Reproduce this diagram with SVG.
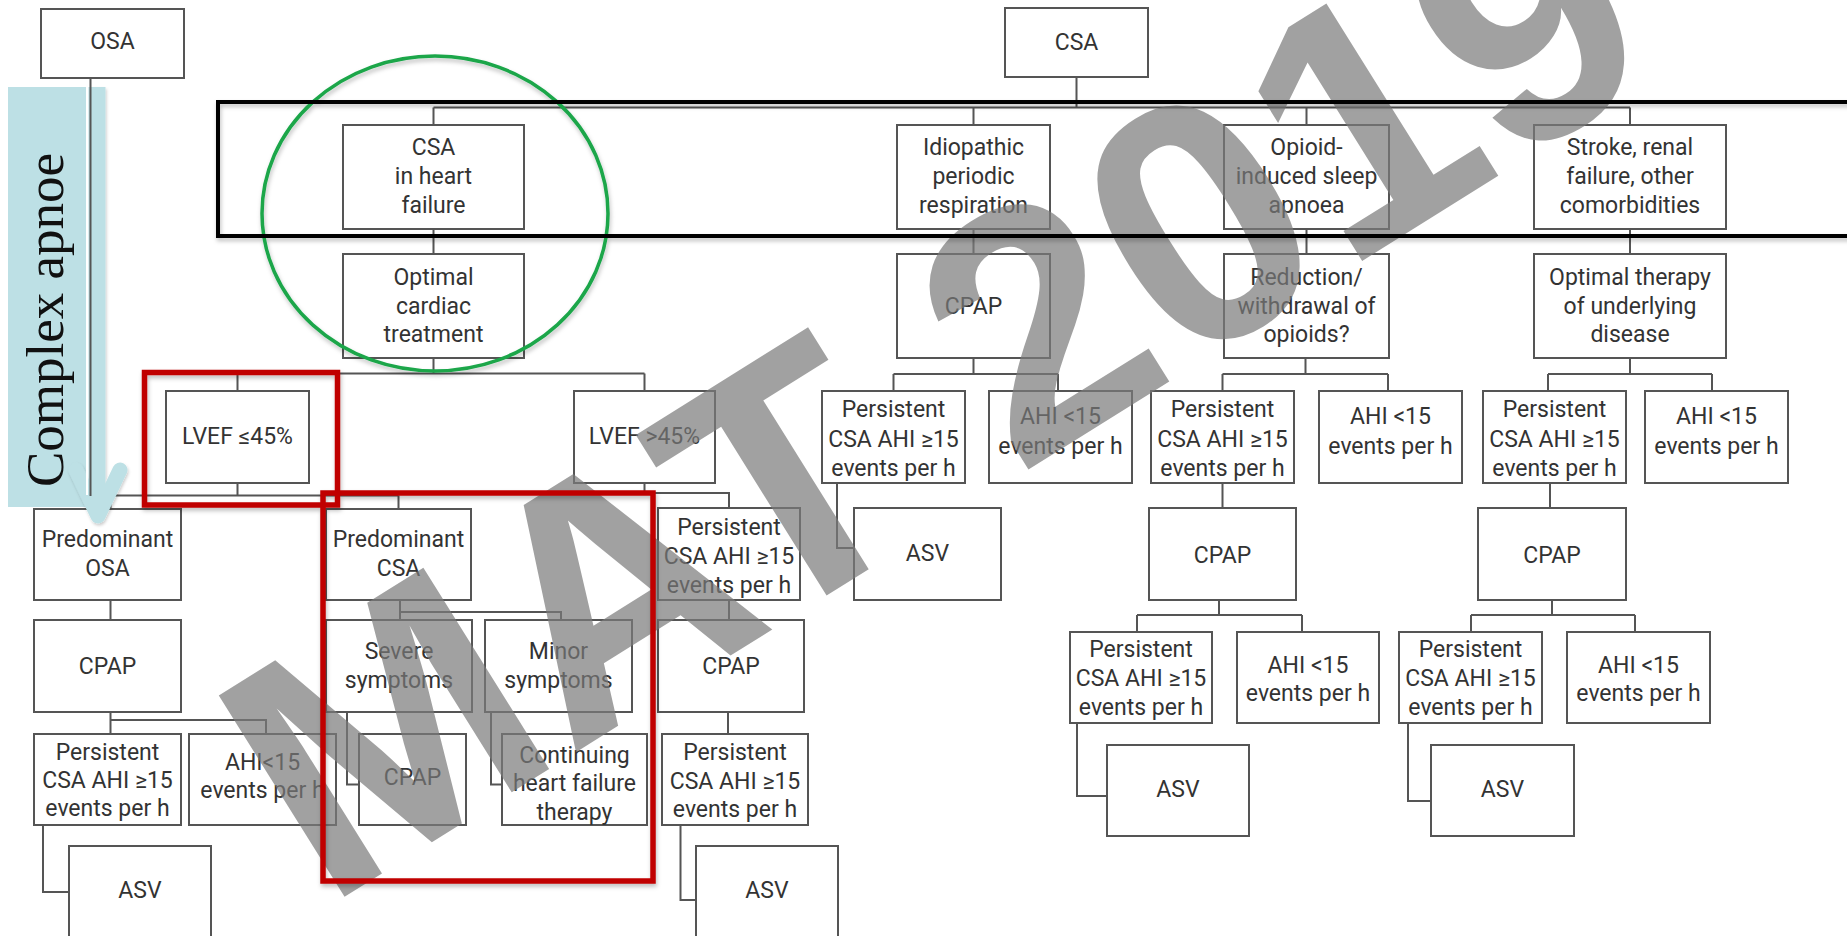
<svg xmlns="http://www.w3.org/2000/svg" width="1847" height="936" viewBox="0 0 1847 936">
<defs>
<style>
.box{fill:#fff;stroke:#555;stroke-width:2}
.t{font-family:Roboto,"DejaVu Sans",sans-serif;font-size:23px;fill:#333;text-anchor:middle}
.c{fill:none;stroke:#555;stroke-width:2}
.red{fill:none;stroke:#c00000;stroke-width:5.5}
</style>
<filter id="sh" x="-5%" y="-5%" width="110%" height="115%"><feDropShadow dx="1" dy="3" stdDeviation="2" flood-color="#000" flood-opacity="0.25"/></filter>
<filter id="sh2" x="-30%" y="-10%" width="160%" height="130%"><feDropShadow dx="1" dy="2" stdDeviation="1.5" flood-color="#000" flood-opacity="0.2"/></filter>
</defs>
<rect width="1847" height="936" fill="#fff"/>

<g id="connectors">
<path class="c" d="M1076.5 77V107.5M433.5 107.5H1630M433.5 107.5V125M973.5 107.5V125M1306.5 107.5V125M1630 107.5V125"/>
<path class="c" d="M433.5 229V254M973.5 229V254M1306.5 229V254M1630 229V254"/>
<path class="c" d="M433.5 358V373.5M237.5 373.5H644.5M237.5 373.5V391M644.5 373.5V391"/>
<path class="c" d="M973.5 358V374M893.5 374H1058M893.5 374V391M1058 374V391"/>
<path class="c" d="M1305.5 358V374M1222.5 374H1388M1222.5 374V391M1388 374V391"/>
<path class="c" d="M1630 358V374M1548 374H1712M1548 374V391M1712 374V391"/>
<path class="c" d="M237.5 483V495.5M90.5 495.5H398.5M110.5 495.5V509M398.5 495.5V509"/>
<path class="c" d="M644.5 483V493H729V508"/>
<path class="c" d="M837 483V548H854"/>
<path class="c" d="M1222.5 483V508M1550 483V508"/>
<path class="c" d="M110.5 600V620M400 600V612H561V620M400 612V620M729 600V620"/>
<path class="c" d="M1219 600V615M1137 615H1302M1137 615V632M1302 615V632"/>
<path class="c" d="M1552 600V615M1471 615H1635M1471 615V632M1635 615V632"/>
<path class="c" d="M110.5 712V720H266V734M110.5 720V734"/>
<path class="c" d="M347 712V784.5H359M491 712V784.5H502M728 712V734"/>
<path class="c" d="M1077 723V796H1107M1408 723V801H1431"/>
<path class="c" d="M43 825V892H69M680.5 825V900H696"/>
</g>

<g id="n_osa"><rect class="box" x="41" y="9" width="143" height="69"/><text class="t" x="112.5" y="49">OSA</text></g>
<g id="n_csa"><rect class="box" x="1005" y="8" width="143" height="69"/><text class="t" x="1076.5" y="50">CSA</text></g>

<g id="n_csahf"><rect class="box" x="343" y="125" width="181" height="104"/><text class="t"><tspan x="433.5" y="155">CSA</tspan><tspan x="433.5" y="184">in heart</tspan><tspan x="433.5" y="213">failure</tspan></text></g>
<g id="n_idio"><rect class="box" x="897" y="125" width="153" height="104"/><text class="t"><tspan x="973.5" y="155">Idiopathic</tspan><tspan x="973.5" y="184">periodic</tspan><tspan x="973.5" y="213">respiration</tspan></text></g>
<g id="n_opioid"><rect class="box" x="1224" y="125" width="165" height="104"/><text class="t"><tspan x="1306.5" y="155">Opioid-</tspan><tspan x="1306.5" y="184">induced sleep</tspan><tspan x="1306.5" y="213">apnoea</tspan></text></g>
<g id="n_stroke"><rect class="box" x="1534" y="125" width="192" height="104"/><text class="t"><tspan x="1630" y="155">Stroke, renal</tspan><tspan x="1630" y="184">failure, other</tspan><tspan x="1630" y="213">comorbidities</tspan></text></g>

<g id="n_optcard"><rect class="box" x="343" y="254" width="181" height="104"/><text class="t"><tspan x="433.5" y="285">Optimal</tspan><tspan x="433.5" y="313.5">cardiac</tspan><tspan x="433.5" y="342">treatment</tspan></text></g>
<g id="n_idio_cpap"><rect class="box" x="897" y="254" width="153" height="104"/><text class="t" x="973.5" y="314">CPAP</text></g>
<g id="n_reduct"><rect class="box" x="1224" y="254" width="165" height="104"/><text class="t"><tspan x="1306.5" y="285">Reduction/</tspan><tspan x="1306.5" y="313.5">withdrawal of</tspan><tspan x="1306.5" y="342">opioids?</tspan></text></g>
<g id="n_opttherapy"><rect class="box" x="1534" y="254" width="192" height="104"/><text class="t"><tspan x="1630" y="285">Optimal therapy</tspan><tspan x="1630" y="313.5">of underlying</tspan><tspan x="1630" y="342">disease</tspan></text></g>

<g id="n_lvef_lo"><rect class="box" x="166" y="391" width="143" height="92"/><text class="t" x="237.5" y="444">LVEF ≤45%</text></g>
<g id="n_lvef_hi"><rect class="box" x="574" y="391" width="141" height="92"/><text class="t" x="644.5" y="444">LVEF &gt;45%</text></g>
<g id="n_idio_pers"><rect class="box" x="822" y="391" width="143" height="92"/><text class="t"><tspan x="893.5" y="417">Persistent</tspan><tspan x="893.5" y="446.5">CSA AHI ≥15</tspan><tspan x="893.5" y="476">events per h</tspan></text></g>
<g id="n_idio_ahi"><rect class="box" x="989" y="391" width="143" height="92"/><text class="t"><tspan x="1060.5" y="424">AHI &lt;15</tspan><tspan x="1060.5" y="454">events per h</tspan></text></g>
<g id="n_opi_pers"><rect class="box" x="1151" y="391" width="143" height="92"/><text class="t"><tspan x="1222.5" y="417">Persistent</tspan><tspan x="1222.5" y="446.5">CSA AHI ≥15</tspan><tspan x="1222.5" y="476">events per h</tspan></text></g>
<g id="n_opi_ahi"><rect class="box" x="1319" y="391" width="143" height="92"/><text class="t"><tspan x="1390.5" y="424">AHI &lt;15</tspan><tspan x="1390.5" y="454">events per h</tspan></text></g>
<g id="n_str_pers"><rect class="box" x="1483" y="391" width="143" height="92"/><text class="t"><tspan x="1554.5" y="417">Persistent</tspan><tspan x="1554.5" y="446.5">CSA AHI ≥15</tspan><tspan x="1554.5" y="476">events per h</tspan></text></g>
<g id="n_str_ahi"><rect class="box" x="1645" y="391" width="143" height="92"/><text class="t"><tspan x="1716.5" y="424">AHI &lt;15</tspan><tspan x="1716.5" y="454">events per h</tspan></text></g>

<g id="n_predosa"><rect class="box" x="34" y="509" width="147" height="91"/><text class="t"><tspan x="107.5" y="547">Predominant</tspan><tspan x="107.5" y="576">OSA</tspan></text></g>
<g id="n_predcsa"><rect class="box" x="326" y="509" width="145" height="91"/><text class="t"><tspan x="398.5" y="547">Predominant</tspan><tspan x="398.5" y="576">CSA</tspan></text></g>
<g id="n_hi_pers"><rect class="box" x="658" y="508" width="142" height="92"/><text class="t"><tspan x="729" y="535">Persistent</tspan><tspan x="729" y="564">CSA AHI ≥15</tspan><tspan x="729" y="593">events per h</tspan></text></g>
<g id="n_idio_asv"><rect class="box" x="854" y="508" width="147" height="92"/><text class="t" x="927.5" y="561">ASV</text></g>
<g id="n_opi_cpap"><rect class="box" x="1149" y="508" width="147" height="92"/><text class="t" x="1222.5" y="563">CPAP</text></g>
<g id="n_str_cpap"><rect class="box" x="1478" y="508" width="148" height="92"/><text class="t" x="1552" y="563">CPAP</text></g>

<g id="n_osa_cpap"><rect class="box" x="34" y="620" width="147" height="92"/><text class="t" x="107.5" y="674">CPAP</text></g>
<g id="n_severe"><rect class="box" x="326" y="620" width="146" height="92"/><text class="t"><tspan x="399" y="659">Severe</tspan><tspan x="399" y="688">symptoms</tspan></text></g>
<g id="n_minor"><rect class="box" x="485" y="620" width="147" height="92"/><text class="t"><tspan x="558.5" y="659">Minor</tspan><tspan x="558.5" y="688">symptoms</tspan></text></g>
<g id="n_hi_cpap"><rect class="box" x="658" y="620" width="146" height="92"/><text class="t" x="731" y="674">CPAP</text></g>
<g id="n_opi_pers2"><rect class="box" x="1070" y="632" width="142" height="91"/><text class="t"><tspan x="1141" y="657">Persistent</tspan><tspan x="1141" y="686">CSA AHI ≥15</tspan><tspan x="1141" y="715">events per h</tspan></text></g>
<g id="n_opi_ahi2"><rect class="box" x="1237" y="632" width="142" height="91"/><text class="t"><tspan x="1308" y="672.5">AHI &lt;15</tspan><tspan x="1308" y="701">events per h</tspan></text></g>
<g id="n_str_pers2"><rect class="box" x="1399" y="632" width="143" height="91"/><text class="t"><tspan x="1470.5" y="657">Persistent</tspan><tspan x="1470.5" y="686">CSA AHI ≥15</tspan><tspan x="1470.5" y="715">events per h</tspan></text></g>
<g id="n_str_ahi2"><rect class="box" x="1567" y="632" width="143" height="91"/><text class="t"><tspan x="1638.5" y="672.5">AHI &lt;15</tspan><tspan x="1638.5" y="701">events per h</tspan></text></g>

<g id="n_osa_pers"><rect class="box" x="34" y="734" width="147" height="91"/><text class="t"><tspan x="107.5" y="760">Persistent</tspan><tspan x="107.5" y="788">CSA AHI ≥15</tspan><tspan x="107.5" y="816">events per h</tspan></text></g>
<g id="n_osa_ahi"><rect class="box" x="189" y="734" width="147" height="91"/><text class="t"><tspan x="262.5" y="770">AHI&lt;15</tspan><tspan x="262.5" y="798">events per h</tspan></text></g>
<g id="n_sev_cpap"><rect class="box" x="359" y="734" width="107" height="91"/><text class="t" x="412.5" y="785">CPAP</text></g>
<g id="n_cont"><rect class="box" x="502" y="734" width="145" height="91"/><text class="t"><tspan x="574.5" y="763">Continuing</tspan><tspan x="574.5" y="791">heart failure</tspan><tspan x="574.5" y="820">therapy</tspan></text></g>
<g id="n_hi_pers2"><rect class="box" x="662" y="734" width="146" height="91"/><text class="t"><tspan x="735" y="760">Persistent</tspan><tspan x="735" y="788.5">CSA AHI ≥15</tspan><tspan x="735" y="817">events per h</tspan></text></g>
<g id="n_opi_asv"><rect class="box" x="1107" y="745" width="142" height="91"/><text class="t" x="1178" y="797">ASV</text></g>
<g id="n_str_asv"><rect class="box" x="1431" y="745" width="143" height="91"/><text class="t" x="1502.5" y="797">ASV</text></g>
<g id="n_osa_asv"><rect class="box" x="69" y="846" width="142" height="100"/><text class="t" x="140" y="898">ASV</text></g>
<g id="n_hi_asv"><rect class="box" x="696" y="846" width="142" height="100"/><text class="t" x="767" y="898">ASV</text></g>

<g id="watermark"><text transform="translate(325,909) rotate(-32)" font-family="'Liberation Sans',Arial,sans-serif" font-weight="bold" font-size="345" fill="#7a7a7a" opacity="0.7">MAT 2019</text></g>

<g id="complex_apnoe">
<rect x="8" y="87" width="78" height="420" fill="#bde0e5"/>
<g filter="url(#sh2)">
<line x1="97" y1="87" x2="97" y2="505" stroke="#bde0e5" stroke-width="17"/>
<polyline points="76,470 98,516 120,470" fill="none" stroke="#bde0e5" stroke-width="15" stroke-linecap="round" stroke-linejoin="round"/>
</g>
<line x1="87" y1="87" x2="87" y2="495" stroke="#fff" stroke-width="2"/>
<line x1="90.5" y1="78" x2="90.5" y2="496" stroke="#555" stroke-width="2"/>
<text transform="translate(63,487) rotate(-90)" font-family="'Liberation Serif','Times New Roman',serif" font-size="53" fill="#111">Complex apnoe</text>
</g>

<g id="highlights" filter="url(#sh)">
<rect class="red" x="144.5" y="372.5" width="193" height="132.5"/>
<rect class="red" x="323" y="493" width="330" height="388"/>
<ellipse cx="435" cy="213.5" rx="173" ry="157.5" fill="none" stroke="#1aa64a" stroke-width="3.5"/>
<rect x="218" y="102" width="1660" height="134" fill="none" stroke="#000" stroke-width="4"/>
</g>
</svg>
